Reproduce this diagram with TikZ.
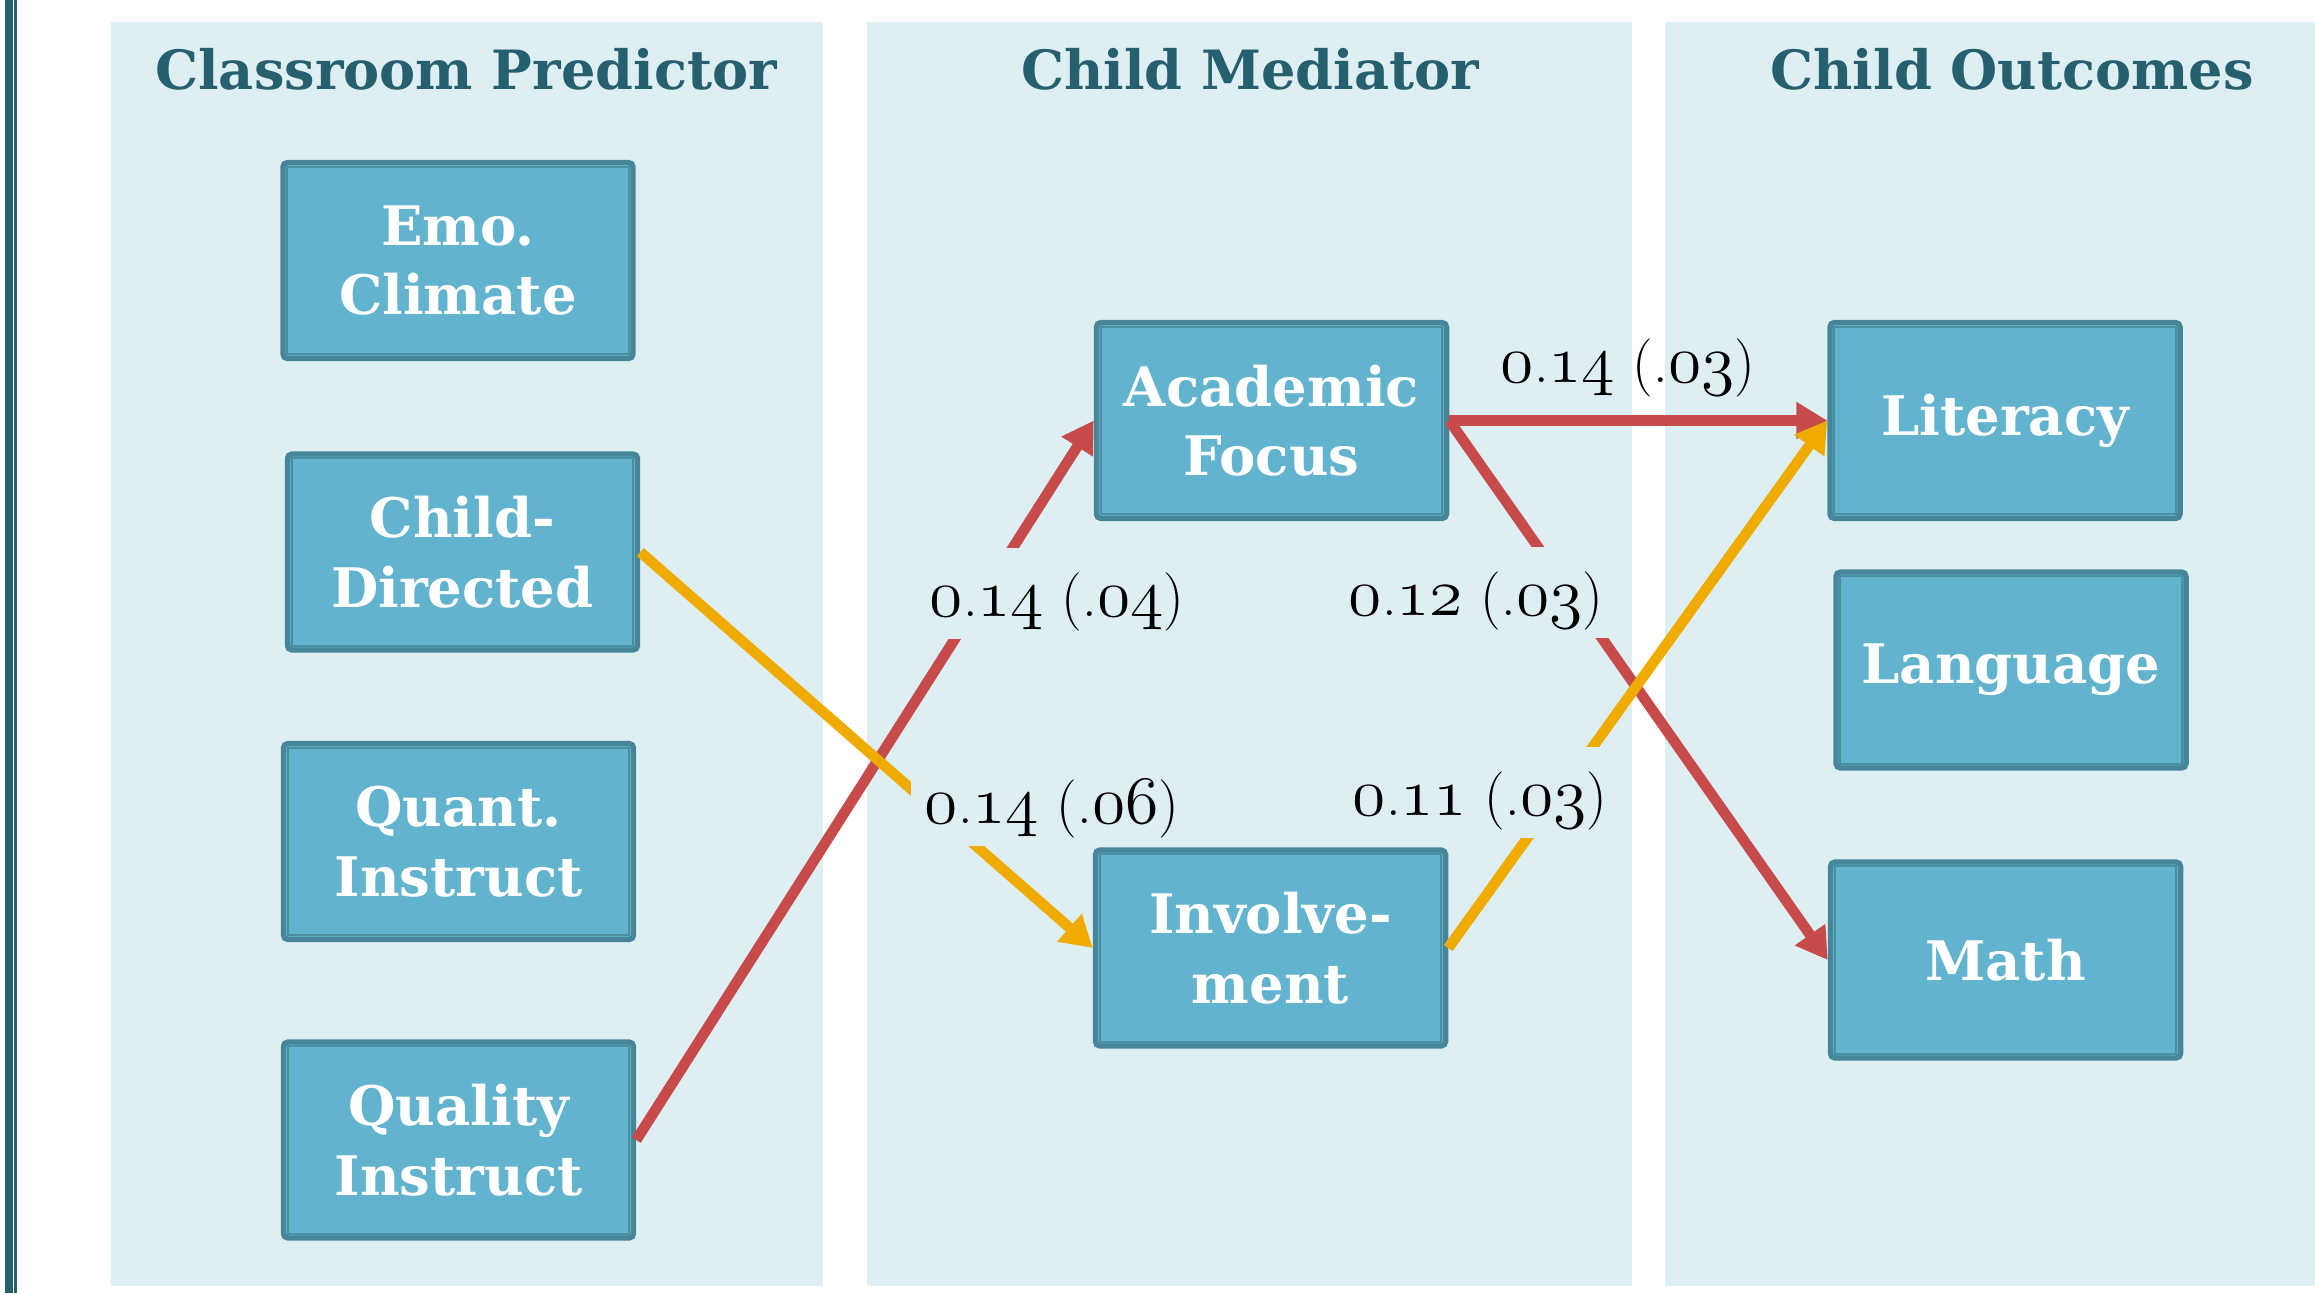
\RequirePackage{fix-cm}
\documentclass[tikz,border=0pt]{standalone}
\usepackage{fontspec}
\newfontfamily\gfont{DejaVu Serif}
\usetikzlibrary{arrows.meta}
\definecolor{panelbg}{RGB}{222,239,244}
\definecolor{boxfill}{RGB}{98,179,205}
\definecolor{boxborder}{RGB}{71,134,152}
\definecolor{boxinner}{RGB}{74,142,160}
\definecolor{headcol}{RGB}{38,96,110}
\definecolor{redline}{RGB}{200,75,75}
\definecolor{yelline}{RGB}{240,171,0}
\newcommand{\osn}[1]{{\fontsize{19.3}{20}\usefont{OML}{cmm}{m}{it}#1}}
\newcommand{\coef}[2]{\osn{0}.\osn{#1} (.\osn{#2})}
\begin{document}
\begin{tikzpicture}[x=0.01cm,y=-0.01cm,
  panel/.style={fill=panelbg},
  head/.style={text=headcol, font=\gfont\bfseries\fontsize{15.4}{20}\selectfont, inner sep=0pt, anchor=base},
  box/.style={draw=boxborder, line width=1.5pt, fill=boxfill, rounded corners=1.3pt,
    minimum width=3.5cm, minimum height=1.96cm, text=white, align=center, inner sep=0pt,
    font=\gfont\bfseries\fontsize{15.5}{19.8}\selectfont},
  innerline/.style={draw=boxinner, line width=0.5pt},
  redarrow/.style={draw=redline, line width=3pt, -{Triangle[length=8.8pt,width=10pt]}},
  yelarrow/.style={draw=yelline, line width=3pt, -{Triangle[length=8.8pt,width=10pt]}},
  coeflabel/.style={font=\fontsize{16.6}{20}\selectfont, inner xsep=4pt, inner ysep=0pt,
    text height=19.3pt, text depth=6.5pt, anchor=base},
  coefmask/.style={coeflabel, fill=panelbg}]
\useasboundingbox (0,0) rectangle (2315,1293);
% left double rule
\fill[headcol] (5,0) rectangle (12.5,1293);
\fill[headcol] (14,0) rectangle (16.5,1293);
% panels
\fill[panel] (111,22) rectangle (823,1286);
\fill[panel] (867,22) rectangle (1632,1286);
\fill[panel] (1665,22) rectangle (2315,1286);
% headings
\node[head] (h1) at (466,89) {Classroom Predictor};
\node[head] (h2) at (1250,89) {Child Mediator};
\node[head] (h3) at (2012,89) {Child Outcomes};
% boxes
\node[box] (emo) at (458,260.5) {Emo.\\Climate};
\node[box] (child) at (462.5,552) {Child-\\Directed};
\node[box] (quant) at (458.5,841.5) {Quant.\\Instruct};
\node[box] (quality) at (458.5,1140) {Quality\\Instruct};
\node[box] (acad) at (1271.5,420.5) {Academic\\Focus};
\node[box] (invol) at (1270.5,948) {Involve-\\ment};
\node[box] (lit) at (2005,420.5) {Literacy};
\node[box] (lang) at (2011,670) {Language};
\node[box] (math) at (2005.5,960) {Math};
\foreach \n in {emo,child,quant,quality,acad,invol,lit,lang,math}
  \draw[innerline] ([shift={(2pt,2pt)}]\n.south west) rectangle ([shift={(-2pt,-2pt)}]\n.north east);
% arrows
\draw[redarrow] (quality.east) -- (acad.west);
\draw[redarrow] (acad.east) -- (lit.west);
\draw[redarrow] (acad.east) -- (math.west);
\draw[yelarrow] (child.east) -- (invol.west);
\draw[yelarrow] (invol.east) -- (lit.west);
% coefficient labels
\node[coefmask] (c1) at (1057,616) {\coef{14}{04}};
\node[coefmask] (c2) at (1052,823) {\coef{14}{06}};
\node[coeflabel] (c3) at (1628,382) {\coef{14}{03}};
\node[coefmask] (c4) at (1476,615) {\coef{12}{03}};
\node[coefmask] (c5) at (1480,815) {\coef{11}{03}};
\end{tikzpicture}
\end{document}
